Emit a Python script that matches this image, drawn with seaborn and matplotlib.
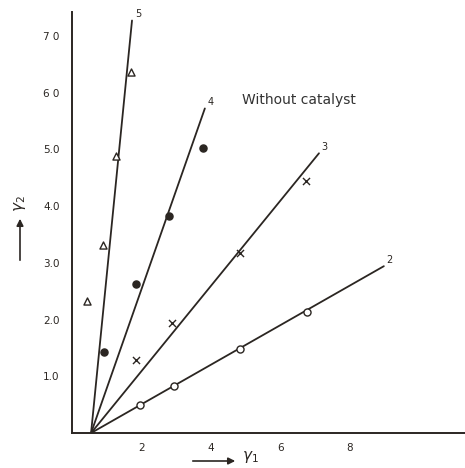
import pandas as pd
import matplotlib.pyplot as plt
import seaborn as sns

# common origin of the fitted lines
origin_x = 0.55
origin_y = 0.0

# line end points (label, x, y)
line_labels = ["2", "3", "4", "5"]
line_end_x = [8.99, 7.12, 3.83, 1.73]
line_end_y = [2.94, 4.93, 5.72, 7.27]

# measured points per series
s2_x = [1.96, 2.94, 4.84, 6.77]
s2_y = [0.49, 0.83, 1.48, 2.13]
s3_x = [1.84, 2.88, 4.84, 6.74]
s3_y = [1.29, 1.94, 3.17, 4.45]
s4_x = [0.92, 1.84, 2.80, 3.78]
s4_y = [1.43, 2.62, 3.82, 5.02]
s5_x = [0.43, 0.89, 1.27, 1.70]
s5_y = [2.32, 3.31, 4.89, 6.37]

y_ticks = [1, 2, 3, 4, 5, 6, 7]
y_tick_labels = ["1.0", "2.0", "3.0", "4.0", "5.0", "6 0", "7 0"]
x_ticks = [2, 4, 6, 8]
x_tick_labels = ["2", "4", "6", "8"]

ink = "#2b2622"

sns.set_style("white")
plt.rcParams['font.family'] = ['DejaVu Sans']

lines_df = pd.DataFrame({
    "x": [origin_x] * 4 + line_end_x,
    "y": [origin_y] * 4 + line_end_y,
    "series": line_labels * 2,
})
pts_df = pd.DataFrame({
    "x": s2_x + s3_x + s4_x + s5_x,
    "y": s2_y + s3_y + s4_y + s5_y,
    "series": ["2"] * 4 + ["3"] * 4 + ["4"] * 4 + ["5"] * 4,
})

fig = plt.figure(figsize=(4.65, 4.68), dpi=100)
ax = fig.add_axes([72 / 465, 35 / 468, 393 / 465, 421 / 468])

sns.lineplot(data=lines_df, x="x", y="y", hue="series",
             palette={k: ink for k in line_labels},
             linewidth=1.3, legend=False, sort=False, ax=ax)

markers = {"2": "o", "3": "x", "4": "o", "5": "^"}
faces = {"2": "white", "3": ink, "4": ink, "5": "white"}
for key in ["2", "3", "4", "5"]:
    sub = pts_df[pts_df["series"] == key]
    sns.scatterplot(data=sub, x="x", y="y", marker=markers[key],
                    color=faces[key], edgecolor=ink, linewidth=1.0,
                    s=26, zorder=3, ax=ax, legend=False)

for lab, ex, ey in zip(line_labels, line_end_x, line_end_y):
    ax.text(ex + 0.08, ey + 0.02, lab, fontsize=7, color=ink,
            ha="left", va="bottom")

ax.text(4.9, 5.8, "Without catalyst", fontsize=10, color="#333333")

ax.set_xlim(0, 11.33)
ax.set_ylim(0, 7.42)
ax.set_xticks(x_ticks)
ax.set_xticklabels(x_tick_labels)
ax.set_yticks(y_ticks)
ax.set_yticklabels(y_tick_labels)
ax.tick_params(axis="both", direction="out", length=5, width=1.2,
               colors=ink, labelsize=7.5, pad=2)
ax.tick_params(axis="y", length=7)
sns.despine(ax=ax)
for side in ["left", "bottom"]:
    ax.spines[side].set_color(ink)
    ax.spines[side].set_linewidth(1.4)
ax.set_xlabel("")
ax.set_ylabel("")

# axis names with arrows, as in the original figure
ax.annotate("", xy=(20, 252), xytext=(20, 205), xycoords="figure pixels",
            arrowprops=dict(arrowstyle="-|>", color=ink, lw=1.2))
fig.text(20 / 465, 256 / 468, r"$\gamma_2$", rotation=90, fontsize=11,
         color=ink, ha="center", va="bottom")
ax.annotate("", xy=(238, 7), xytext=(190, 7), xycoords="figure pixels",
            arrowprops=dict(arrowstyle="-|>", color=ink, lw=1.2))
fig.text(242 / 465, 3 / 468, r"$\gamma_1$", fontsize=11, color=ink,
         ha="left", va="bottom")

plt.savefig("out.png")
